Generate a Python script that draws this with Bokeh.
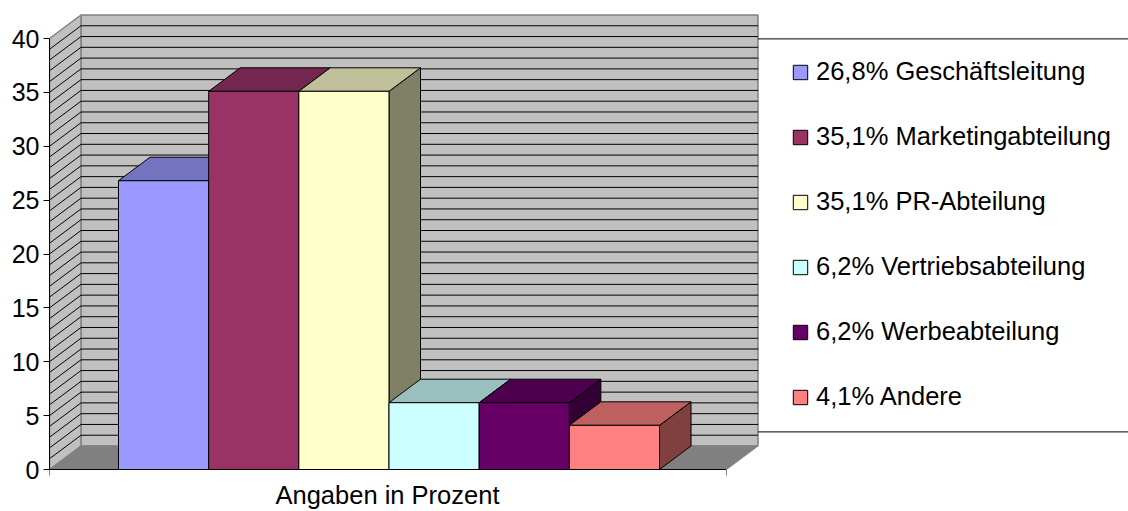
from bokeh.plotting import figure
from bokeh.embed import file_html
from bokeh.resources import INLINE
from bokeh.models import Legend, LegendItem, FixedTicker, Range1d, Title

values = [26.8, 35.1, 35.1, 6.2, 6.2, 4.1]
percent_labels = ["26,8%", "35,1%", "35,1%", "6,2%", "6,2%", "4,1%"]
names = ["Geschäftsleitung", "Marketingabteilung", "PR-Abteilung",
         "Vertriebsabteilung", "Werbeabteilung", "Andere"]
front_colors = ["#9999FF", "#993366", "#FFFFCC", "#CCFFFF", "#660066", "#FF8080"]
top_colors = ["#7373BF", "#732650", "#BFBF99", "#99BFBF", "#4D004D", "#BF6060"]
side_colors = ["#737399", "#4D1A33", "#808066", "#668080", "#330033", "#804040"]
y_ticks = [0, 5, 10, 15, 20, 25, 30, 35, 40]
grid_values = list(range(1, 40))
x_axis_title = "Angaben in Prozent"

# scales: one bar is one x unit, one percent point is one y unit
PX_X = 90.17
PX_Y = 10.775
FRAME_L, FRAME_R, FRAME_B, FRAME_T = 49, 1128, 469, 0
x_at = lambda px: (px - 118) / PX_X
y_at = lambda py: (FRAME_B - py) / PX_Y
DX = 31.5 / PX_X
DY = 23.5 / PX_Y
AX0, AX1 = x_at(49), x_at(726)
YMAX = 40

p = figure(width=1128, height=511, output_backend="svg", toolbar_location=None,
           x_range=Range1d(x_at(FRAME_L), x_at(FRAME_R)),
           y_range=Range1d(0, y_at(FRAME_T)),
           min_border_left=49, min_border_right=0, min_border_top=0, min_border_bottom=42,
           outline_line_color=None, background_fill_color=None, border_fill_color="white",
           x_axis_location="below", y_axis_location="left")
p.grid.visible = False

WALL = "#C0C0C0"
EDGE = "#808080"
# back wall, side wall, floor
p.patch([AX0 + DX, AX1 + DX, AX1 + DX, AX0 + DX], [DY, DY, YMAX + DY, YMAX + DY],
        fill_color=WALL, line_color=EDGE, line_width=1.5)
p.patch([AX0, AX0 + DX, AX0 + DX, AX0], [0, DY, YMAX + DY, YMAX],
        fill_color=WALL, line_color=EDGE, line_width=1.5)
p.patch([AX0, AX1, AX1 + DX, AX0 + DX], [0, 0, DY, DY],
        fill_color=EDGE, line_color=EDGE, line_width=1)
# grid
p.segment([AX0 + DX] * len(grid_values), [v + DY for v in grid_values],
          [AX1 + DX] * len(grid_values), [v + DY for v in grid_values],
          line_color="black", line_width=1)
p.segment([AX0] * len(grid_values), grid_values,
          [AX0 + DX] * len(grid_values), [v + DY for v in grid_values],
          line_color="black", line_width=1)

# bars
items = []
for i, v in enumerate(values):
    x0, x1 = i, i + 1
    p.patch([x1, x1 + DX, x1 + DX, x1], [0, DY, v + DY, v],
            fill_color=side_colors[i], line_color="black", line_width=1)
    p.patch([x0, x1, x1 + DX, x0 + DX], [v, v, v + DY, v + DY],
            fill_color=top_colors[i], line_color="black", line_width=1)
    r = p.vbar(x=[i + 0.5], top=[v], bottom=[0], width=1,
               fill_color=front_colors[i], line_color="black", line_width=1)
    items.append(LegendItem(label=f"{percent_labels[i]} {names[i]}", renderers=[r]))

# legend frame rules
p.segment([AX1 + DX] * 2, [y_at(38.4), y_at(431.4)],
          [x_at(FRAME_R)] * 2, [y_at(38.4), y_at(431.4)],
          line_color="black", line_width=1)

legend = Legend(items=items, location=(742, 58), orientation="vertical",
                background_fill_alpha=0, border_line_color=None,
                padding=0, margin=0, spacing=36, glyph_width=18, glyph_height=18,
                label_height=28, label_standoff=7,
                label_text_font="Liberation Sans", label_text_font_size="25.5px",
                label_text_color="black")
p.add_layout(legend, "center")

ya = p.yaxis[0]
ya.ticker = FixedTicker(ticks=y_ticks)
ya.bounds = (0, YMAX)
ya.minor_tick_line_color = None
ya.major_tick_in = 0
ya.major_tick_out = 6
ya.major_label_standoff = 4
ya.major_label_text_font = "Liberation Sans"
ya.major_label_text_font_size = "25px"
ya.major_label_text_color = "black"
ya.axis_line_color = "black"
ya.major_tick_line_color = "black"

xa = p.xaxis[0]
xa.ticker = FixedTicker(ticks=[AX0, AX1])
xa.bounds = (AX0, AX1)
xa.minor_tick_line_color = None
xa.major_tick_in = 0
xa.major_tick_out = 6
xa.major_tick_line_color = EDGE
xa.major_label_overrides = {AX0: "", AX1: ""}
xa.major_label_text_font_size = "1px"
xa.major_label_standoff = 0
xa.axis_line_color = "black"

p.add_layout(Title(text=x_axis_title, align="left", offset=226, standoff=6,
                   text_font="Liberation Sans", text_font_style="normal",
                   text_font_size="25.5px", text_color="black"), "below")

open("out.html", "w").write(file_html(p, INLINE))
